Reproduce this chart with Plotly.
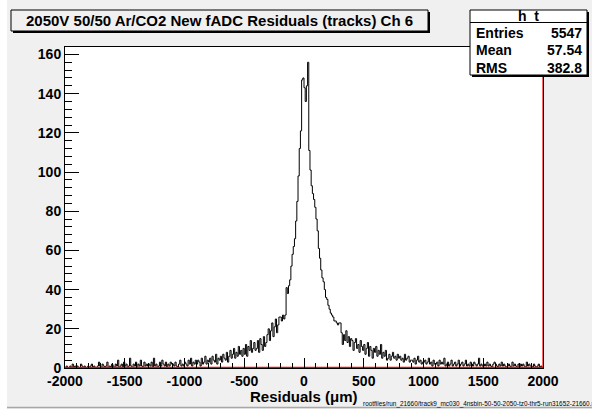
import numpy as np
import plotly.graph_objects as go

# Residual histogram: 400 bins of 10 um from -2000 to 2000 um
bin_lo = -2000
bin_hi = 2000
bin_width = 10

counts = [
    # -2000 .. -1000
    0, 1, 0, 0, 1, 0, 2, 0, 1, 0,
    1, 0, 0, 2, 1, 0, 1, 0, 0, 1,
    0, 1, 2, 0, 1, 0, 0, 1, 3, 1,
    0, 2, 1, 0, 1, 3, 0, 1, 0, 2,
    1, 0, 2, 1, 4, 0, 1, 2, 0, 3,
    1, 2, 0, 1, 5, 1, 0, 2, 1, 3,
    0, 2, 1, 4, 1, 0, 3, 1, 2, 1,
    2, 1, 3, 0, 5, 1, 2, 0, 1, 3,
    1, 4, 2, 1, 3, 0, 2, 1, 3, 2,
    2, 1, 3, 1, 0, 2, 4, 1, 2, 1,
    # -1000 .. -500
    3, 2, 1, 4, 2, 5, 1, 3, 2, 4,
    2, 4, 3, 1, 5, 2, 3, 6, 2, 4,
    3, 5, 2, 6, 4, 3, 7, 2, 5, 4,
    6, 3, 7, 5, 4, 8, 3, 6, 9, 5,
    7, 10, 5, 8, 6, 11, 7, 9, 6, 10,
    # -500 .. 0
    7, 12, 6, 11, 9, 14, 8, 10, 13, 9,
    10, 14, 8, 15, 12, 9, 16, 11, 13, 17,
    20, 14, 19, 23, 16, 21, 25, 18, 22, 26,
    26, 24, 27, 25, 27, 41, 38, 42, 45, 52,
    58, 62, 66, 75, 85, 98, 112, 121, 147, 148,
    # 0 .. 500
    143, 136, 144, 156, 111, 101, 93, 89, 86, 82,
    76, 70, 61, 56, 50, 46, 44, 40, 36, 35,
    32, 30, 28, 27, 26, 24, 24, 23, 22, 23,
    23, 18, 12, 17, 14, 19, 13, 16, 11, 15,
    14, 9, 13, 15, 10, 12, 8, 14, 11, 9,
    # 500 .. 1000
    12, 7, 10, 13, 6, 11, 9, 5, 10, 8,
    11, 6, 9, 7, 12, 5, 8, 6, 9, 4,
    5, 7, 4, 6, 8, 5, 6, 4, 7, 5,
    6, 4, 5, 3, 7, 4, 5, 6, 3, 4,
    4, 3, 5, 2, 4, 6, 3, 4, 2, 3,
    # 1000 .. 2000
    3, 4, 2, 3, 5, 2, 3, 1, 4, 2,
    2, 3, 1, 4, 2, 3, 2, 5, 1, 2,
    3, 1, 2, 4, 1, 2, 3, 1, 2, 4,
    1, 2, 3, 1, 2, 4, 1, 2, 1, 3,
    2, 1, 3, 2, 1, 2, 5, 1, 2, 1,
    1, 2, 1, 3, 1, 2, 1, 0, 2, 3,
    2, 1, 0, 2, 1, 3, 1, 2, 1, 0,
    1, 2, 1, 0, 3, 1, 2, 1, 0, 2,
    0, 2, 1, 2, 1, 0, 3, 1, 2, 1,
    1, 0, 2, 1, 0, 1, 2, 0, 1, 0,
]

# Second (empty) histogram drawn in red
red_counts = [0] * len(counts)

title_text = "2050V 50/50 Ar/CO2 New fADC Residuals (tracks) Ch 6"
stats_name = "h_t"
stats_labels = ["Entries", "Mean", "RMS"]
stats_values = ["5547", "57.54", "382.8"]
x_title = "Residuals (\u03bcm)"
file_label = "rootfiles/run_21660/track9_mc030_4nsbin-50-50-2050-tz0-thr5-run31652-21660.root"

x_ticks = [-2000, -1500, -1000, -500, 0, 500, 1000, 1500, 2000]
y_ticks = [0, 20, 40, 60, 80, 100, 120, 140, 160]

edges = np.arange(bin_lo, bin_hi + bin_width, bin_width)
y_max = 1.05 * max(counts)

W, H = 592, 409
L, R, T, B = 65, 543, 47, 368   # frame in pixels


def fx(px):
    return (px - L) / (R - L)


def fy(py):
    return (B - py) / (B - T)


FONT = "Liberation Sans"
CANVAS = "#f0f0f0"

fig = go.Figure()

fig.add_trace(go.Scatter(
    x=edges, y=list(counts) + [counts[-1]],
    mode="lines", line=dict(color="black", width=1, shape="hv"),
    showlegend=False,
))
fig.add_trace(go.Scatter(
    x=edges, y=list(red_counts) + [red_counts[-1]],
    mode="lines", line=dict(color="#ff0000", width=2.5, shape="hv"),
    hoverinfo="skip", showlegend=False, cliponaxis=False,
))

shapes = []
# canvas bevel
shapes.append(dict(type="rect", xref="paper", yref="paper",
                   x0=fx(0), x1=fx(7), y0=fy(W), y1=fy(0),
                   fillcolor="white", line_width=0, layer="below"))
shapes.append(dict(type="line", xref="paper", yref="paper",
                   x0=fx(7), x1=fx(W), y0=fy(407.5), y1=fy(407.5),
                   line=dict(color="#a8a8a8", width=1.5)))
# red edge of the second histogram at the upper limit
shapes.append(dict(type="line", xref="x", yref="paper",
                   x0=bin_hi, x1=bin_hi, y0=0, y1=1,
                   line=dict(color="#ff0000", width=1.2)))

# title pave with shadow
tx0, tx1, ty0, ty1 = 11, 428, 10, 31
shapes.append(dict(type="rect", xref="paper", yref="paper",
                   x0=fx(tx0 + 2), x1=fx(tx1 + 2), y0=fy(ty1 + 2), y1=fy(ty0 + 2),
                   fillcolor="black", line_width=0))
shapes.append(dict(type="rect", xref="paper", yref="paper",
                   x0=fx(tx0), x1=fx(tx1), y0=fy(ty1), y1=fy(ty0),
                   fillcolor=CANVAS, line=dict(color="black", width=1)))

# stats pave with shadow
sx0, sx1, sy0, sy1 = 470, 587, 10, 75
shapes.append(dict(type="rect", xref="paper", yref="paper",
                   x0=fx(sx0 + 2), x1=fx(sx1 + 2), y0=fy(sy1 + 2), y1=fy(sy0 + 2),
                   fillcolor="black", line_width=0))
shapes.append(dict(type="rect", xref="paper", yref="paper",
                   x0=fx(sx0), x1=fx(sx1), y0=fy(sy1), y1=fy(sy0),
                   fillcolor="white", line=dict(color="black", width=1)))
shapes.append(dict(type="line", xref="paper", yref="paper",
                   x0=fx(sx0), x1=fx(sx1), y0=fy(22.5), y1=fy(22.5),
                   line=dict(color="black", width=1)))

annotations = []
annotations.append(dict(xref="paper", yref="paper", x=fx((tx0 + tx1) / 2), y=fy(21),
                        text="<b>" + title_text + "</b>", showarrow=False,
                        xanchor="center", yanchor="middle",
                        font=dict(family=FONT, size=15, color="black")))
annotations.append(dict(xref="paper", yref="paper", x=fx((sx0 + sx1) / 2), y=fy(16),
                        text="<b>" + stats_name + "</b>", showarrow=False,
                        xanchor="center", yanchor="middle",
                        font=dict(family=FONT, size=14, color="black")))
row_y = [33, 50.5, 68]
for lab, val, ry in zip(stats_labels, stats_values, row_y):
    annotations.append(dict(xref="paper", yref="paper", x=fx(sx0 + 4), y=fy(ry),
                            text="<b>" + lab + "</b>", showarrow=False,
                            xanchor="left", yanchor="middle",
                            font=dict(family=FONT, size=14, color="black")))
    annotations.append(dict(xref="paper", yref="paper", x=fx(sx1 - 3), y=fy(ry),
                            text="<b>" + val + "</b>", showarrow=False,
                            xanchor="right", yanchor="middle",
                            font=dict(family=FONT, size=14, color="black")))
annotations.append(dict(xref="paper", yref="paper", x=0.5, y=fy(396),
                        text="<b>" + x_title + "</b>", showarrow=False,
                        xanchor="center", yanchor="middle",
                        font=dict(family=FONT, size=15, color="black")))
annotations.append(dict(xref="paper", yref="paper", x=fx(361), y=fy(403.5),
                        text=file_label, showarrow=False,
                        xanchor="left", yanchor="middle",
                        font=dict(family=FONT, size=6.4, color="black")))

fig.update_layout(
    width=W, height=H,
    margin=dict(l=L, r=W - R, t=T, b=H - B, pad=0),
    paper_bgcolor=CANVAS, plot_bgcolor="white",
    shapes=shapes, annotations=annotations,
    xaxis=dict(range=[bin_lo, bin_hi], tickvals=x_ticks,
               ticktext=[str(v) for v in x_ticks],
               ticks="inside", ticklen=10, tickwidth=1, tickcolor="black",
               minor=dict(dtick=100, tick0=bin_lo, ticks="inside", ticklen=5,
                          tickcolor="black", tickwidth=1),
               showgrid=False, zeroline=False,
               showline=True, linecolor="black", linewidth=1, mirror=True,
               tickfont=dict(family=FONT, size=14, color="black", weight="bold")),
    yaxis=dict(range=[0, y_max], tickvals=y_ticks,
               ticktext=[str(v) for v in y_ticks],
               ticks="inside", ticklen=14, tickwidth=1, tickcolor="black",
               minor=dict(dtick=4, tick0=0, ticks="inside", ticklen=7,
                          tickcolor="black", tickwidth=1),
               showgrid=False, zeroline=False,
               showline=True, linecolor="black", linewidth=1, mirror=True,
               tickfont=dict(family=FONT, size=14, color="black", weight="bold")),
)

fig.write_html("out.html")
